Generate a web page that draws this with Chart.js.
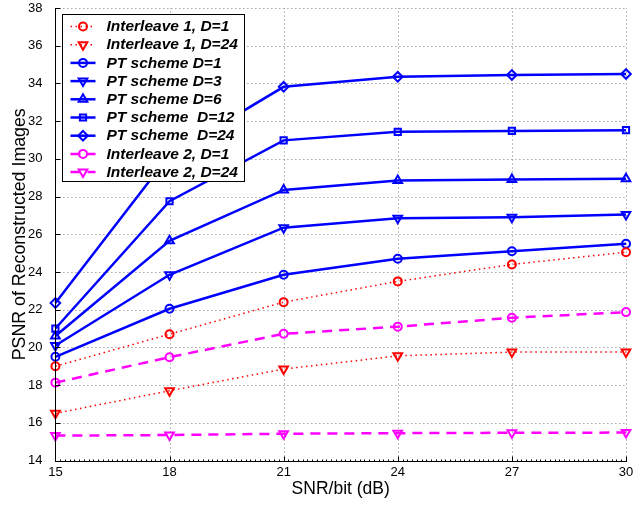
<!DOCTYPE html>
<html>
<head>
<meta charset="utf-8">
<script src="https://cdn.jsdelivr.net/npm/chart.js@4/dist/chart.umd.min.js"></script>
<style>
  html, body { margin: 0; padding: 0; background: #fff; }
  #wrap { width: 633px; height: 506px; }
</style>
</head>
<body>
<div id="wrap"><canvas id="c" width="633" height="506"></canvas></div>
<script>
// SNR per bit (dB) and axis ticks
const snr = [15, 18, 21, 24, 27, 30];
const xTicks = [15, 18, 21, 24, 27, 30];
const yTicks = [14, 16, 18, 20, 22, 24, 26, 28, 30, 32, 34, 36, 38];

// PSNR of reconstructed images (dB) for each scheme
const interleave1D1  = [19.0, 20.7, 22.4, 23.5, 24.4, 25.05];
const interleave1D24 = [16.5, 17.7, 18.85, 19.55, 19.75, 19.75];
const ptD1  = [19.5, 22.05, 23.85, 24.7, 25.1, 25.5];
const ptD3  = [20.1, 23.85, 26.35, 26.85, 26.9, 27.05];
const ptD6  = [20.6, 25.65, 28.35, 28.85, 28.9, 28.95];
const ptD12 = [21.0, 27.75, 30.98, 31.43, 31.48, 31.52];
const ptD24 = [22.35, 30.2, 33.82, 34.35, 34.45, 34.5];
const interleave2D1  = [18.13, 19.48, 20.72, 21.1, 21.57, 21.87];
const interleave2D24 = [15.32, 15.35, 15.42, 15.45, 15.47, 15.48];

const FONT = '"Liberation Sans", Arial, Helvetica, sans-serif';
const BLUE = '#0000ff', RED = '#ff0000', MAGENTA = '#ff00ff';
const NONE = 'rgba(0,0,0,0)';

function series(label, values, color, kind, marker) {
  const styles = {
    circle: { pointStyle: 'circle', rotation: 0, radius: 4 },
    down:   { pointStyle: 'triangle', rotation: 180, radius: 5 },
    up:     { pointStyle: 'triangle', rotation: 0, radius: 5 },
    square: { pointStyle: 'rect', rotation: 0, radius: 4.4 },
    diamond:{ pointStyle: 'rectRot', rotation: 0, radius: 4.8 }
  }[marker];
  const line = {
    solid:  { width: 2.5, dash: [] },
    dotted: { width: 1.5, dash: [1.5, 3.5] },
    dashed: { width: 2.5, dash: [10, 7] }
  }[kind];
  return {
    label,
    data: snr.map((x, i) => ({ x, y: values[i] })),
    borderColor: color,
    borderWidth: line.width,
    borderDash: line.dash,
    fill: false,
    tension: 0,
    clip: false,
    pointStyle: styles.pointStyle,
    pointRotation: styles.rotation,
    pointRadius: styles.radius,
    pointHoverRadius: styles.radius,
    pointBorderWidth: 2,
    pointBorderColor: color,
    pointBackgroundColor: NONE
  };
}

const datasets = [
  series('Interleave 1, D=1',  interleave1D1,  RED, 'dotted', 'circle'),
  series('Interleave 1, D=24', interleave1D24, RED, 'dotted', 'down'),
  series('PT scheme D=1',   ptD1,  BLUE, 'solid', 'circle'),
  series('PT scheme D=3',   ptD3,  BLUE, 'solid', 'down'),
  series('PT scheme D=6',   ptD6,  BLUE, 'solid', 'up'),
  series('PT scheme  D=12', ptD12, BLUE, 'solid', 'square'),
  series('PT scheme  D=24', ptD24, BLUE, 'solid', 'diamond'),
  series('Interleave 2, D=1',  interleave2D1,  MAGENTA, 'dashed', 'circle'),
  series('Interleave 2, D=24', interleave2D24, MAGENTA, 'dashed', 'down')
];

// Dotted grid, axis lines with inward ticks, and a boxed legend inside the plot
const frame = {
  id: 'frame',
  beforeDatasetsDraw(chart) {
    const { ctx, chartArea: a, scales: { x, y } } = chart;
    ctx.save();
    ctx.strokeStyle = 'rgba(0,0,0,0.5)';
    ctx.lineWidth = 1;
    ctx.setLineDash([1, 3]);
    x.ticks.forEach(t => {
      const px = Math.round(x.getPixelForValue(t.value)) + 0.5;
      ctx.beginPath(); ctx.moveTo(px, a.bottom); ctx.lineTo(px, a.top); ctx.stroke();
    });
    y.ticks.forEach(t => {
      const py = Math.round(y.getPixelForValue(t.value)) + 0.5;
      ctx.beginPath(); ctx.moveTo(a.left, py); ctx.lineTo(a.right, py); ctx.stroke();
    });
    ctx.restore();
  },
  afterDatasetsDraw(chart) {
    const { ctx, chartArea: a, scales: { x, y } } = chart;
    ctx.save();
    ctx.strokeStyle = '#000';
    ctx.lineWidth = 1;
    ctx.setLineDash([]);
    const ax = Math.round(a.left) + 0.5;
    const ay = Math.round(a.bottom) + 0.5;
    ctx.beginPath();
    ctx.moveTo(ax, Math.round(a.top));
    ctx.lineTo(ax, ay);
    ctx.lineTo(Math.round(a.right) + 1, ay);
    ctx.stroke();
    ctx.beginPath();
    x.ticks.forEach(t => {
      const px = Math.round(x.getPixelForValue(t.value)) + 0.5;
      ctx.moveTo(px, ay); ctx.lineTo(px, ay - 5);
    });
    // minor ticks along the SNR axis
    for (let v = x.min; v <= x.max + 1e-9; v += 0.125) {
      const px = Math.round(x.getPixelForValue(v)) + 0.5;
      ctx.moveTo(px, ay); ctx.lineTo(px, ay - 2);
    }
    y.ticks.forEach(t => {
      const py = Math.round(y.getPixelForValue(t.value)) + 0.5;
      ctx.moveTo(ax, py); ctx.lineTo(ax + 5, py);
    });
    ctx.stroke();
    ctx.restore();
  },
  afterDraw(chart) {
    const { ctx, chartArea: a } = chart;
    const bx = Math.round(a.left + 6.5) + 0.5;
    const by = Math.round(a.top + 6) + 0.5;
    const bw = 182, bh = 167;
    const rowH = 18.2;
    ctx.save();
    ctx.fillStyle = '#fff';
    ctx.fillRect(bx, by, bw, bh);
    ctx.strokeStyle = '#000';
    ctx.lineWidth = 1;
    ctx.strokeRect(bx, by, bw, bh);
    ctx.font = 'italic bold 15.5px ' + FONT;
    ctx.textBaseline = 'middle';
    ctx.textAlign = 'left';
    chart.data.datasets.forEach((ds, i) => {
      const cy = by + 12 + i * rowH;
      const x0 = bx + 8, x1 = bx + 33, mx = bx + 20.5;
      ctx.strokeStyle = ds.borderColor;
      ctx.lineWidth = ds.borderWidth;
      ctx.setLineDash(ds.borderDash);
      ctx.beginPath(); ctx.moveTo(x0, cy); ctx.lineTo(x1, cy); ctx.stroke();
      ctx.setLineDash([]);
      ctx.lineWidth = ds.pointBorderWidth;
      ctx.fillStyle = NONE;
      Chart.helpers.drawPoint(ctx, {
        pointStyle: ds.pointStyle,
        rotation: ds.pointRotation,
        radius: ds.pointRadius,
        borderWidth: ds.pointBorderWidth
      }, mx, cy);
      ctx.fillStyle = '#000';
      ctx.fillText(ds.label, bx + 44, cy + 0.5);
    });
    ctx.restore();
  }
};

new Chart(document.getElementById('c'), {
  type: 'line',
  data: { datasets },
  options: {
    responsive: false,
    animation: false,
    devicePixelRatio: 1,
    layout: { padding: { top: 8, right: 4.6, bottom: 0, left: 0 } },
    plugins: { legend: { display: false }, tooltip: { enabled: false } },
    scales: {
      x: {
        type: 'linear',
        min: 15, max: 30,
        afterBuildTicks: s => { s.ticks = xTicks.map(v => ({ value: v })); },
        afterFit: s => { s.height = 45.5; s.paddingLeft = 0; s.paddingRight = 0; },
        grid: { display: false },
        border: { display: false },
        ticks: { padding: -3.5, color: '#000', maxRotation: 0, autoSkip: false,
                 font: { family: FONT, size: 13 } },
        title: { display: true, text: 'SNR/bit (dB)', color: '#000',
                 font: { family: FONT, size: 17.5, lineHeight: 1.2 },
                 padding: { top: 0, bottom: 6 } }
      },
      y: {
        type: 'linear',
        min: 14, max: 38,
        afterBuildTicks: s => { s.ticks = yTicks.map(v => ({ value: v })); },
        afterFit: s => { s.width = 55.4; s.paddingTop = 0; s.paddingBottom = 0; },
        grid: { display: false },
        border: { display: false },
        ticks: { padding: 5, color: '#000', autoSkip: false,
                 font: { family: FONT, size: 13 } },
        title: { display: true, text: 'PSNR of Reconstructed Images', color: '#000',
                 font: { family: FONT, size: 17.8, lineHeight: 1.2 },
                 padding: { top: 9.8, bottom: 0 } }
      }
    }
  },
  plugins: [frame]
});
</script>
</body>
</html>
